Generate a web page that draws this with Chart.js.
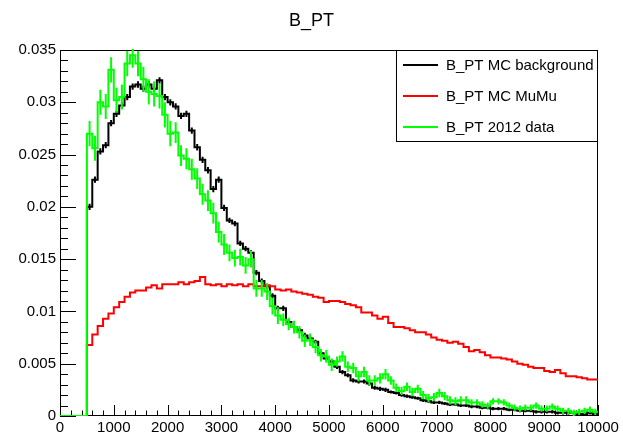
<!DOCTYPE html>
<html>
<head>
<meta charset="utf-8">
<title>B_PT</title>
<script src="https://cdn.jsdelivr.net/npm/chart.js@4.4.0/dist/chart.umd.min.js"></script>
<style>
  html, body { margin: 0; padding: 0; background: #fff; }
  canvas { display: block; }
</style>
</head>
<body>
<canvas id="chart" width="623" height="432"></canvas>
<script>
// histogram: 100 bins of width 100 from 0 to 10000, normalised
var binWidth = 100;
var nBins = 100;

var seriesLabels = ['B_PT MC background', 'B_PT MC MuMu', 'B_PT 2012 data'];
var seriesColors = ['#000000', '#ff0000', '#00ff00'];

var xTickLabels = ['0', '1000', '2000', '3000', '4000', '5000', '6000', '7000', '8000', '9000', '10000'];
var yTickLabels = ['0', '0.005', '0.01', '0.015', '0.02', '0.025', '0.03', '0.035'];

var mcBackground = [
  0, 0, 0, 0, 0, 0.0200, 0.0226, 0.0253, 0.0259, 0.0280,
  0.0289, 0.0297, 0.0305, 0.0315, 0.0317, 0.0313, 0.0317, 0.0313, 0.0321, 0.0305,
  0.0300, 0.0296, 0.0287, 0.0289, 0.0273, 0.0257, 0.0245, 0.0235, 0.0217, 0.0226,
  0.0199, 0.0187, 0.0184, 0.0165, 0.0160, 0.0156, 0.0137, 0.0129, 0.0124, 0.0115,
  0.0103, 0.0103, 0.0090, 0.0085, 0.0082, 0.0077, 0.0074, 0.0071, 0.0060, 0.0055,
  0.0052, 0.0047, 0.0042, 0.0039, 0.0034, 0.0033, 0.0033, 0.0031, 0.0027, 0.0026,
  0.0025, 0.0023, 0.0022, 0.0020, 0.0019, 0.0018, 0.0017, 0.0015, 0.0014, 0.0013,
  0.0013, 0.0012, 0.0011, 0.0011, 0.0010, 0.0010, 0.0009, 0.0009, 0.0008, 0.0008,
  0.0007, 0.0007, 0.0007, 0.0006, 0.0006, 0.0005, 0.0005, 0.0005, 0.0004, 0.0004,
  0.0004, 0.0004, 0.0003, 0.0003, 0.0003, 0.0003, 0.0002, 0.0002, 0.0003, 0.0002
];
var mcBackgroundErr = [
  0, 0, 0, 0, 0, 0.0003, 0.0003, 0.0003, 0.0003, 0.0003,
  0.0003, 0.0003, 0.0003, 0.0003, 0.0003, 0.0003, 0.0003, 0.0003, 0.0003, 0.0003,
  0.0003, 0.0003, 0.0003, 0.0003, 0.0003, 0.0003, 0.0003, 0.0003, 0.0003, 0.0003,
  0.0003, 0.00025, 0.00025, 0.00025, 0.00025, 0.00025, 0.00025, 0.00025, 0.00025, 0.00025,
  0.00025, 0.00025, 0.00025, 0.00025, 0.00025, 0.00025, 0.0002, 0.0002, 0.0002, 0.0002,
  0.0002, 0.0002, 0.0002, 0.0002, 0.0002, 0.0002, 0.0002, 0.0002, 0.0002, 0.0002,
  0.0002, 0.00015, 0.00015, 0.00015, 0.00015, 0.00015, 0.00015, 0.00015, 0.00015, 0.00015,
  0.00015, 0.00015, 0.00015, 0.00015, 0.00015, 0.00015, 0.00015, 0.00015, 0.00015, 0.00015,
  0.00015, 0.00015, 0.00015, 0.00015, 0.00015, 0.00015, 0.00015, 0.00015, 0.00015, 0.00015,
  0.00015, 0.00015, 0.00015, 0.00015, 0.00015, 0.00015, 0.00015, 0.00015, 0.00015, 0.00015
];

var mcMuMu = [
  0, 0, 0, 0, 0, 0.0068, 0.0078, 0.0086, 0.0093, 0.0098,
  0.0104, 0.0109, 0.0114, 0.0118, 0.0120, 0.0120, 0.0123, 0.0125, 0.0122, 0.0126,
  0.0126, 0.0126, 0.0128, 0.0126, 0.0128, 0.0129, 0.0133, 0.0126, 0.0125, 0.0126,
  0.0124, 0.0126, 0.0125, 0.0126, 0.0124, 0.0126, 0.0124, 0.0124, 0.0125, 0.0124,
  0.0121, 0.0120, 0.0121, 0.0119, 0.0118, 0.0117, 0.0116, 0.0114, 0.0113, 0.0109,
  0.0110, 0.0110, 0.0109, 0.0107, 0.0106, 0.0104, 0.0099, 0.0099, 0.0096, 0.0093,
  0.0095, 0.0089, 0.0085, 0.0085, 0.0084, 0.0082, 0.0080, 0.0080, 0.0078, 0.0075,
  0.0073, 0.0072, 0.0070, 0.0071, 0.0069, 0.0066, 0.0062, 0.0063, 0.0061, 0.0058,
  0.0056, 0.0056, 0.0055, 0.0054, 0.0052, 0.0050, 0.0049, 0.0047, 0.0046, 0.0046,
  0.0043, 0.0042, 0.0044, 0.0041, 0.0038, 0.0038, 0.0037, 0.0036, 0.0035, 0.0035
];

var data2012 = [
  0, 0, 0, 0, 0, 0.0270, 0.0256, 0.0300, 0.0296, 0.0331,
  0.0302, 0.0305, 0.0337, 0.0345, 0.0337, 0.0322, 0.0310, 0.0308, 0.0306, 0.0288,
  0.0270, 0.0271, 0.0249, 0.0246, 0.0236, 0.0227, 0.0212, 0.0206, 0.0194, 0.0176,
  0.0164, 0.0156, 0.0151, 0.0152, 0.0144, 0.0150, 0.0122, 0.0122, 0.0119, 0.0105,
  0.0096, 0.0092, 0.0088, 0.0085, 0.0080, 0.0072, 0.0073, 0.0066, 0.0058, 0.0057,
  0.0049, 0.0052, 0.0057, 0.0047, 0.0046, 0.0038, 0.0042, 0.0034, 0.0034, 0.0036,
  0.0040, 0.0034, 0.0027, 0.0024, 0.0028, 0.0023, 0.0026, 0.0020, 0.0017, 0.0018,
  0.0022, 0.0019, 0.0015, 0.0014, 0.0015, 0.0015, 0.0013, 0.0013, 0.0011, 0.0010,
  0.0014, 0.0014, 0.0013, 0.0010, 0.0008, 0.0007, 0.0008, 0.0008, 0.0010, 0.0007,
  0.0007, 0.0009, 0.0007, 0.0005, 0.0005, 0.0003, 0.0004, 0.0005, 0.0006, 0.0004
];
var data2012Err = [
  0, 0, 0, 0, 0, 0.0012, 0.0012, 0.0012, 0.0012, 0.0012,
  0.0012, 0.0012, 0.0012, 0.0012, 0.0012, 0.0012, 0.0012, 0.0012, 0.0012, 0.0012,
  0.0012, 0.0010, 0.0010, 0.0010, 0.0010, 0.0010, 0.0010, 0.0010, 0.0010, 0.0010,
  0.0010, 0.0008, 0.0008, 0.0008, 0.0008, 0.0008, 0.0008, 0.0008, 0.0008, 0.0008,
  0.0008, 0.0006, 0.0006, 0.0006, 0.0006, 0.0006, 0.0006, 0.0006, 0.0006, 0.0006,
  0.0006, 0.0005, 0.0005, 0.0005, 0.0005, 0.0005, 0.0005, 0.0005, 0.0005, 0.0005,
  0.0005, 0.0004, 0.0004, 0.0004, 0.0004, 0.0004, 0.0004, 0.0004, 0.0004, 0.0004,
  0.0004, 0.0004, 0.0004, 0.0004, 0.0004, 0.0004, 0.0003, 0.0003, 0.0003, 0.0003,
  0.0003, 0.0003, 0.0003, 0.0003, 0.0003, 0.0003, 0.0003, 0.0003, 0.0003, 0.0003,
  0.0003, 0.0003, 0.0003, 0.0003, 0.0003, 0.0003, 0.0003, 0.0003, 0.0003, 0.0003
];

// bin low edges as points, plus the upper edge of the last bin
function histPoints(values) {
  var pts = values.map(function (v, i) { return {x: i * binWidth, y: v}; });
  pts.push({x: nBins * binWidth, y: values[values.length - 1]});
  return pts;
}

Chart.defaults.font.family = '"Liberation Sans", Arial, Helvetica, sans-serif';
Chart.defaults.color = '#000';

// frame + inward ticks under the histograms, error bars, ROOT style legend
var rootStyle = {
  id: 'rootStyle',
  beforeDatasetsDraw: function (chart) {
    var ctx = chart.ctx, a = chart.chartArea;
    var xs = chart.scales.x, ys = chart.scales.y;
    ctx.save();
    ctx.strokeStyle = '#000';
    ctx.lineWidth = 1;
    ctx.beginPath();
    var v, px, py;
    for (v = 0; v <= 10000; v += 200) {
      px = Math.round(xs.getPixelForValue(v)) + 0.5;
      var lx = (v % 1000 === 0) ? 11 : 5.5;
      ctx.moveTo(px, a.bottom);
      ctx.lineTo(px, a.bottom - lx);
    }
    for (v = 0; v <= 35; v += 1) {
      py = Math.round(ys.getPixelForValue(v / 1000)) + 0.5;
      var ly = (v % 5 === 0) ? 16 : 8;
      ctx.moveTo(a.left, py);
      ctx.lineTo(a.left + ly, py);
    }
    ctx.stroke();
    ctx.strokeRect(Math.round(a.left) + 0.5, Math.round(a.top) + 0.5,
      Math.round(a.width) - 1, Math.round(a.height) - 1);
    ctx.restore();
  },
  afterDatasetDraw: function (chart, args) {
    var ds = chart.data.datasets[args.index];
    if (!ds.errors) return;
    var ctx = chart.ctx, a = chart.chartArea;
    var xs = chart.scales.x, ys = chart.scales.y;
    ctx.save();
    ctx.beginPath();
    ctx.rect(a.left, a.top - 1, a.width, a.height + 1);
    ctx.clip();
    ctx.strokeStyle = ds.borderColor;
    ctx.lineWidth = ds.errorWidth;
    ctx.beginPath();
    ds.values.forEach(function (v, i) {
      var e = ds.errors[i];
      if (!e || !v) return;
      var px = xs.getPixelForValue((i + 0.5) * binWidth);
      ctx.moveTo(px, ys.getPixelForValue(v - e));
      ctx.lineTo(px, ys.getPixelForValue(v + e));
    });
    ctx.stroke();
    ctx.restore();
  },
  afterDraw: function (chart) {
    var ctx = chart.ctx, a = chart.chartArea;
    ctx.save();
    // legend box in the upper right corner of the frame
    var bx = Math.round(a.right) - 202, by = Math.round(a.top), bw = 202, bh = 92;
    ctx.fillStyle = '#fff';
    ctx.fillRect(bx, by, bw, bh);
    ctx.strokeStyle = '#000';
    ctx.lineWidth = 1;
    ctx.strokeRect(bx + 0.5, by + 0.5, bw - 1, bh - 1);
    ctx.font = '15px "Liberation Sans", Arial, sans-serif';
    ctx.textBaseline = 'middle';
    ctx.textAlign = 'left';
    chart.data.datasets.slice().sort(function (p, q) { return p.legendIndex - q.legendIndex; })
      .forEach(function (ds, k) {
        var ly = by + 15 + k * 31;
        ctx.strokeStyle = ds.borderColor;
        ctx.lineWidth = 2;
        ctx.beginPath();
        ctx.moveTo(bx + 7, ly);
        ctx.lineTo(bx + 42, ly);
        ctx.stroke();
        ctx.fillStyle = '#000';
        ctx.fillText(ds.label, bx + 50, ly + 1);
      });
    ctx.restore();
  }
};

function makeSet(k, values, errors, order) {
  return {
    label: seriesLabels[k],
    legendIndex: k,
    data: histPoints(values),
    values: values,
    errors: errors,
    errorWidth: 2,
    borderColor: seriesColors[k],
    backgroundColor: seriesColors[k],
    borderWidth: 2,
    stepped: true,
    pointRadius: 0,
    pointHoverRadius: 0,
    fill: false,
    order: order
  };
}

new Chart(document.getElementById('chart'), {
  type: 'line',
  data: {
    datasets: [
      makeSet(2, data2012, data2012Err, 1),
      makeSet(1, mcMuMu, null, 2),
      makeSet(0, mcBackground, mcBackgroundErr, 3)
    ]
  },
  options: {
    responsive: false,
    animation: false,
    devicePixelRatio: 1,
    layout: { padding: 0 },
    scales: {
      x: {
        type: 'linear',
        min: 0,
        max: 10000,
        grid: { display: false, drawTicks: false },
        border: { display: false },
        ticks: {
          stepSize: 1000,
          autoSkip: false,
          maxRotation: 0,
          padding: 3,
          font: { size: 15 },
          callback: function (val) { return xTickLabels[Math.round(val / 1000)]; }
        },
        afterFit: function (s) { s.height = 16; }
      },
      y: {
        type: 'linear',
        min: 0,
        max: 0.035,
        grid: { display: false, drawTicks: false },
        border: { display: false },
        ticks: {
          stepSize: 0.005,
          padding: 4,
          font: { size: 15 },
          callback: function (val) { return yTickLabels[Math.round(val / 0.005)]; }
        },
        afterFit: function (s) { s.width = 60; }
      },
      // empty right margin of the pad
      yRight: {
        type: 'linear',
        position: 'right',
        display: true,
        grid: { display: false, drawTicks: false },
        border: { display: false },
        ticks: { display: false },
        afterFit: function (s) { s.width = 25; }
      }
    },
    plugins: {
      legend: { display: false },
      tooltip: { enabled: false },
      title: {
        display: true,
        text: 'B_PT',
        color: '#000',
        font: { size: 18, weight: 'normal' },
        padding: { top: 10, bottom: 18.4 }
      }
    }
  },
  plugins: [rootStyle]
});
</script>
</body>
</html>
